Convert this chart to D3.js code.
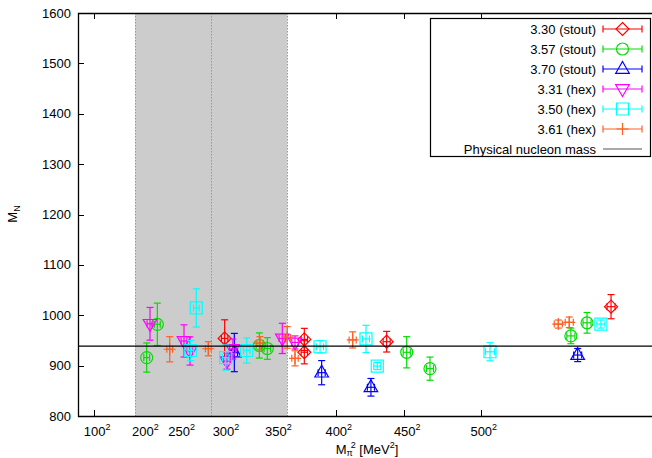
<!DOCTYPE html>
<html>
<head>
<meta charset="utf-8">
<script src="https://cdn.jsdelivr.net/npm/d3@7"></script>
<style>
  html, body { margin: 0; padding: 0; background: #fff; }
  svg { display: block; font-family: "Liberation Sans", Arial, Helvetica, sans-serif; }
</style>
</head>
<body>
<svg id="chart" width="652" height="458"></svg>
<script>
// Nucleon mass vs. squared pion mass, per lattice ensemble.
// Each point: [M_pi (MeV), M_N (MeV), dM_N (MeV), d(M_pi^2) (MeV^2)]
const stout330 = [[301.7, 954, 37, 2000], [374.8, 952, 22, 2000], [374.8, 926.5, 23, 2000],
                  [437.7, 947.5, 20.5, 2200], [575.2, 1017, 24, 2500]];
const stout357 = [[206.5, 916, 29, 1800], [221.9, 982, 42, 1800], [335.5, 940, 25, 2000],
                  [342.8, 934, 21.5, 2000], [451.7, 926.5, 31, 2200], [467.4, 894, 23, 2200],
                  [553.1, 959, 15.5, 2500], [562.1, 985, 20.5, 2500]];
const stout370 = [[311.5, 926, 38, 2000], [388.9, 886, 24, 2200], [426.4, 857, 17.5, 2200],
                  [556.9, 921, 13, 2500]];
const hex331 = [[211.4, 983, 32.5, 1800], [256.5, 949, 32, 1800], [263.7, 929, 28, 1800],
                [304.0, 909, 16, 2000], [310.0, 933, 20, 2000], [356.1, 954, 30, 2000],
                [367.0, 946, 13, 2000]];
const hex350 = [[264.5, 930, 20, 1800], [271.0, 1014.5, 38, 1800], [302.8, 916, 25, 2000],
                [323.6, 930, 25, 2000], [387.6, 937.5, 12.5, 2200], [422.8, 953, 27, 2200],
                [431.0, 899, 7, 2200], [505.7, 927.5, 18, 2800], [569.7, 982.5, 8, 2500]];
const hex361 = [[238.6, 932.5, 25, 1800], [284.4, 933.5, 14, 1800], [336.1, 944.5, 13, 2000],
                [360.4, 956, 21.5, 2000], [367.0, 914.5, 15, 2000], [412.9, 951, 16, 2200],
                [546.0, 982.5, 8, 2500], [552.2, 986, 10.5, 2500]];

const seriesLabels = ["3.30 (stout)", "3.57 (stout)", "3.70 (stout)", "3.31 (hex)", "3.50 (hex)", "3.61 (hex)"];
const seriesData = [stout330, stout357, stout370, hex331, hex350, hex361];
const seriesColors = ["#ff0000", "#00dd00", "#0000ff", "#ff00ff", "#00ffff", "#ff6020"];
const seriesMarkers = ["diamond", "circle", "triangleUp", "triangleDown", "square", "plus"];

const physicalNucleonMass = 938.9;          // MeV
const bandMpi = [188.5, 287.5, 360.4];      // shaded range: low edge, centre, high edge (MeV)

const yTicks = [800, 900, 1000, 1100, 1200, 1300, 1400, 1500, 1600];
const xTickMpi = [100, 200, 250, 300, 350, 400, 450, 500];

// ---------------------------------------------------------------------------
const svg = d3.select("#chart");
const plot = { left: 78, right: 658, top: 13, bottom: 416 };

const x = d3.scaleLinear().domain([0, 360000]).range([plot.left, plot.right]);
const y = d3.scaleLinear().domain([800, 1600]).range([plot.bottom, plot.top]);

const axisColor = "#000";
const fontSize = 13;

// tick marks (inward, mirrored on top)
const tickLen = 6;
const ticks = svg.append("g").attr("stroke", axisColor).attr("stroke-width", 1);
yTicks.forEach(v => {
  ticks.append("line").attr("x1", plot.left).attr("x2", plot.left + tickLen)
    .attr("y1", Math.round(y(v)) + 0.5).attr("y2", Math.round(y(v)) + 0.5);
});
xTickMpi.forEach(m => {
  const px = Math.round(x(m * m)) + 0.5;
  ticks.append("line").attr("x1", px).attr("x2", px).attr("y1", plot.bottom).attr("y2", plot.bottom - tickLen);
  ticks.append("line").attr("x1", px).attr("x2", px).attr("y1", plot.top).attr("y2", plot.top + tickLen);
});

// shaded M_pi range
const bx0 = x(bandMpi[0] ** 2), bx1 = x(bandMpi[2] ** 2);
svg.append("rect").attr("x", bx0).attr("y", plot.top).attr("width", bx1 - bx0)
  .attr("height", plot.bottom - plot.top).attr("fill", "#cccccc");
bandMpi.forEach(m => {
  const px = Math.round(x(m * m)) + 0.5;
  svg.append("line").attr("x1", px).attr("x2", px).attr("y1", plot.top).attr("y2", plot.bottom)
    .attr("stroke", "#999").attr("stroke-width", 1).attr("stroke-dasharray", "1.5,1.5");
});

// markers
function markerPath(type) {
  switch (type) {
    case "diamond": return "M0,-6.5L6.5,0L0,6.5L-6.5,0Z";
    case "triangleUp": return "M0,-7.5L6.8,4.3L-6.8,4.3Z";
    case "triangleDown": return "M0,7.5L6.8,-4.3L-6.8,-4.3Z";
    case "square": return "M-6,-6H6V6H-6Z";
    case "plus": return "M-6,0H6M0,-6V6";
    default: return null;
  }
}
function drawMarker(g, type, cx, cy, color) {
  if (type === "circle") {
    g.append("circle").attr("cx", cx).attr("cy", cy).attr("r", 6)
      .attr("fill", "none").attr("stroke", color).attr("stroke-width", 1.2);
  } else {
    g.append("path").attr("d", markerPath(type)).attr("transform", `translate(${cx},${cy})`)
      .attr("fill", "none").attr("stroke", color).attr("stroke-width", 1.2);
  }
}

// data points with x and y error bars
const cap = 3.5;
seriesData.forEach((pts, i) => {
  const color = seriesColors[i];
  const g = svg.append("g").attr("stroke", color).attr("stroke-width", 1.2).attr("fill", "none");
  pts.forEach(([m, mn, dmn, dx2]) => {
    const cx = x(m * m), cy = y(mn);
    const yt = y(mn + dmn), yb = y(mn - dmn);
    const xl = x(m * m - dx2), xr = x(m * m + dx2);
    g.append("line").attr("x1", cx).attr("x2", cx).attr("y1", yt).attr("y2", yb);
    g.append("line").attr("x1", cx - cap).attr("x2", cx + cap).attr("y1", yt).attr("y2", yt);
    g.append("line").attr("x1", cx - cap).attr("x2", cx + cap).attr("y1", yb).attr("y2", yb);
    g.append("line").attr("x1", xl).attr("x2", xr).attr("y1", cy).attr("y2", cy);
    g.append("line").attr("x1", xl).attr("x2", xl).attr("y1", cy - cap).attr("y2", cy + cap);
    g.append("line").attr("x1", xr).attr("x2", xr).attr("y1", cy - cap).attr("y2", cy + cap);
    drawMarker(g, seriesMarkers[i], cx, cy, color);
  });
});

// physical nucleon mass
svg.append("line").attr("x1", plot.left).attr("x2", 652)
  .attr("y1", y(physicalNucleonMass)).attr("y2", y(physicalNucleonMass))
  .attr("stroke", "#000").attr("stroke-width", 1.2);

// border
svg.append("path")
  .attr("d", `M652,${plot.top + 0.5}H${plot.left + 0.5}V${plot.bottom + 0.5}H652`)
  .attr("fill", "none").attr("stroke", axisColor).attr("stroke-width", 1.3);

// tick labels
const yLab = svg.append("g").attr("font-size", fontSize).attr("fill", "#000").attr("text-anchor", "end");
yTicks.forEach(v => {
  yLab.append("text").attr("x", plot.left - 7).attr("y", y(v) + 4.5).text(v);
});
const xLab = svg.append("g").attr("font-size", fontSize).attr("fill", "#000").attr("text-anchor", "middle");
xTickMpi.forEach(m => {
  const t = xLab.append("text").attr("x", x(m * m) + 3).attr("y", 436);
  t.append("tspan").text(m);
  t.append("tspan").attr("font-size", 9).attr("dy", -6).text("2");
});

// axis titles
const xt = svg.append("text").attr("x", 367).attr("y", 454).attr("font-size", fontSize)
  .attr("text-anchor", "middle").attr("fill", "#000");
xt.append("tspan").text("M");
xt.append("tspan").attr("font-size", 9).attr("dy", 2).text("π");
xt.append("tspan").attr("font-size", 9).attr("dy", -8).attr("dx", -2).text("2");
xt.append("tspan").attr("dy", 6).text(" [MeV");
xt.append("tspan").attr("font-size", 9).attr("dy", -6).text("2");
xt.append("tspan").attr("dy", 6).text("]");

const yt = svg.append("text").attr("transform", "translate(17,214) rotate(-90)")
  .attr("font-size", fontSize).attr("text-anchor", "middle").attr("fill", "#000");
yt.append("tspan").text("M");
yt.append("tspan").attr("font-size", 9).attr("dy", 3).text("N");

// legend
const leg = { x0: 430, x1: 650, y0: 18.5, y1: 156.5, rowY: 29, rowH: 20, textX: 596, s0: 603, s1: 642 };
svg.append("rect").attr("x", leg.x0 + 0.5).attr("y", leg.y0).attr("width", leg.x1 - leg.x0)
  .attr("height", leg.y1 - leg.y0).attr("fill", "#fff").attr("stroke", "#000").attr("stroke-width", 1.2);
seriesLabels.forEach((lab, i) => {
  const cy = leg.rowY + i * leg.rowH;
  svg.append("text").attr("x", leg.textX).attr("y", cy + 4.5).attr("font-size", fontSize)
    .attr("text-anchor", "end").attr("fill", "#000").text(lab);
  const g = svg.append("g").attr("stroke", seriesColors[i]).attr("stroke-width", 1.2).attr("fill", "none");
  g.append("line").attr("x1", leg.s0).attr("x2", leg.s1).attr("y1", cy).attr("y2", cy);
  g.append("line").attr("x1", leg.s0).attr("x2", leg.s0).attr("y1", cy - cap).attr("y2", cy + cap);
  g.append("line").attr("x1", leg.s1).attr("x2", leg.s1).attr("y1", cy - cap).attr("y2", cy + cap);
  drawMarker(g, seriesMarkers[i], (leg.s0 + leg.s1) / 2, cy, seriesColors[i]);
});
{
  const cy = leg.rowY + 6 * leg.rowH;
  svg.append("text").attr("x", leg.textX).attr("y", cy + 4.5).attr("font-size", fontSize)
    .attr("text-anchor", "end").attr("fill", "#000").text("Physical nucleon mass");
  svg.append("line").attr("x1", leg.s0).attr("x2", leg.s1).attr("y1", cy).attr("y2", cy)
    .attr("stroke", "#555").attr("stroke-width", 1.2);
}
</script>
</body>
</html>
